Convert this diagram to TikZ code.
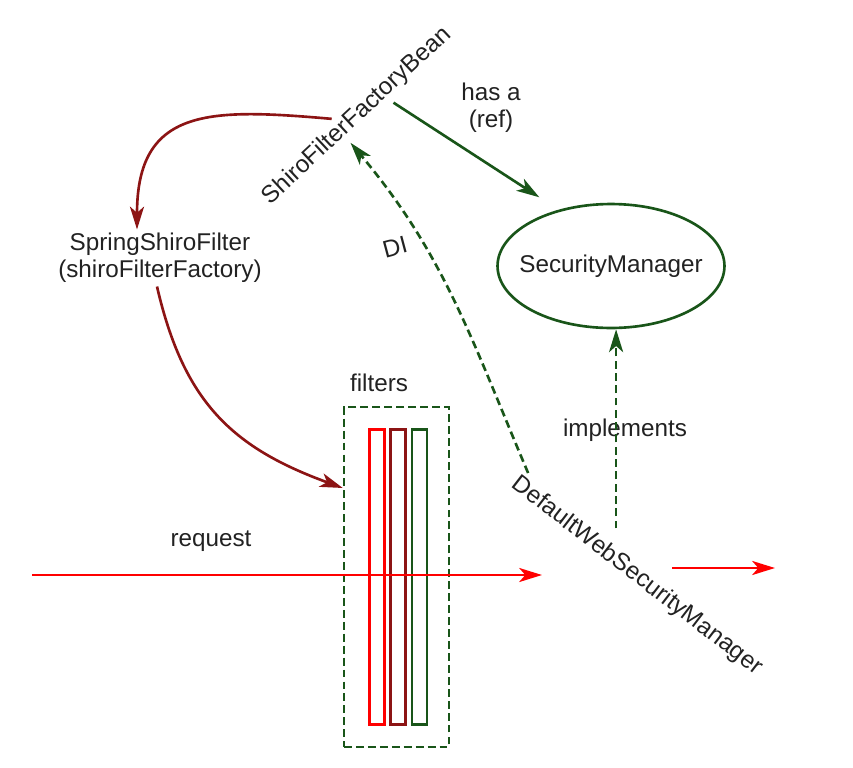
\documentclass[tikz,border=0pt]{standalone}
\usepackage{fontspec}
\setmainfont{Liberation Sans}
\usetikzlibrary{shapes.geometric, arrows.meta, positioning, calc}
\definecolor{cRed}{RGB}{255,0,0}
\definecolor{cDark}{RGB}{140,20,20}
\definecolor{cGreen}{RGB}{25,85,25}
\definecolor{cText}{RGB}{34,34,34}
\tikzset{
	lbl/.style      ={text=cText, align=center, inner sep=2pt},
	redflow/.style  ={-{Stealth[length=13pt,width=8pt,inset=3.5pt]}, line width=1.5pt, draw=cRed},
	darkflow/.style ={-{Stealth[length=13pt,width=8pt,inset=3.5pt]}, line width=1.5pt, draw=cDark},
	greenflow/.style={-{Stealth[length=13pt,width=8pt,inset=3.5pt]}, line width=1.5pt, draw=cGreen},
	greendash/.style={greenflow, dash pattern=on 4.5pt off 2.5pt},
	% filter chain
	fbar/.style     ={rectangle, line width=1.4pt, minimum width=0.3cm, minimum height=5.9cm, inner sep=0pt},
}
\begin{document}
\begin{tikzpicture}[x=0.02cm, y=0.02cm, font=\fontsize{13.8}{15.2}\selectfont]
			\useasboundingbox (0,0) rectangle (853,-768);
			\node[lbl, rotate=43] (sfb) at (357,-116) {ShiroFilterFactoryBean};
			\node[lbl] (ref) at (491,-108) {has a\\(ref)};
			\node[ellipse, draw=cGreen, line width=1.5pt, minimum width=4.54cm, minimum height=2.48cm, inner sep=0pt] (sm) at (611,-266) {};
			\node[lbl] (smtxt) at (sm) {SecurityManager};
			\node[lbl] (spring) at (160,-258) {SpringShiroFilter\\(shiroFilterFactory)};
			\node[lbl, rotate=15] (di) at (395,-247) {DI};
			\node[lbl] (filt) at (379,-383) {filters};
			\node[rectangle, draw=cGreen, line width=1.4pt, dash pattern=on 4.5pt off 2.3pt, minimum width=2.1cm, minimum height=6.8cm] (fbox) at (396.5,-577) {};
			\foreach \i/\x/\c in {1/377/cRed, 2/398/cDark, 3/419.5/cGreen} {
				\node[fbar, draw=\c] (bar\i) at (\x,-577) {};
			}
			\node[lbl, rotate=-37.6] (dwsm) at (637,-576) {DefaultWebSecurityManager};
			\node[lbl] (impl) at (625,-430) {implements};
			\node[lbl] (req) at (211,-541) {request};
			\coordinate (reqin) at (32,-575); \coordinate (reqout) at (542,-575);
			\coordinate (passin) at (672,-568); \coordinate (passout) at (775,-568);
			\draw[redflow] (reqin) -- (reqout);
			\draw[redflow] (passin) -- (passout);
			\draw[darkflow] ($(sfb.north)!0.16!(sfb.north west)$) to[out=175, in=90, looseness=1.4] ($(spring.north)+(-23,0)$);
			\draw[darkflow] ($(spring.south)+(-3,0)$) to[out=-77, in=160, looseness=1.1] ($(fbox.north west)!0.24!(fbox.south west)$);
			\draw[greenflow, shorten >=13pt] ($(sfb.south)!0.28!(sfb.south east)$) -- (sm.133);
			\draw[greendash] ($(dwsm.north west)!0.03!(dwsm.north east)$) to[out=113, in=-50] ($(sfb.south)!0.18!(sfb.south west)$);
			\coordinate (implst) at ($(dwsm.north)!0.24!(dwsm.north west)$);
			\draw[greendash, shorten <=7pt] (implst) -- (implst |- sm.south);
		\end{tikzpicture}
\end{document}
